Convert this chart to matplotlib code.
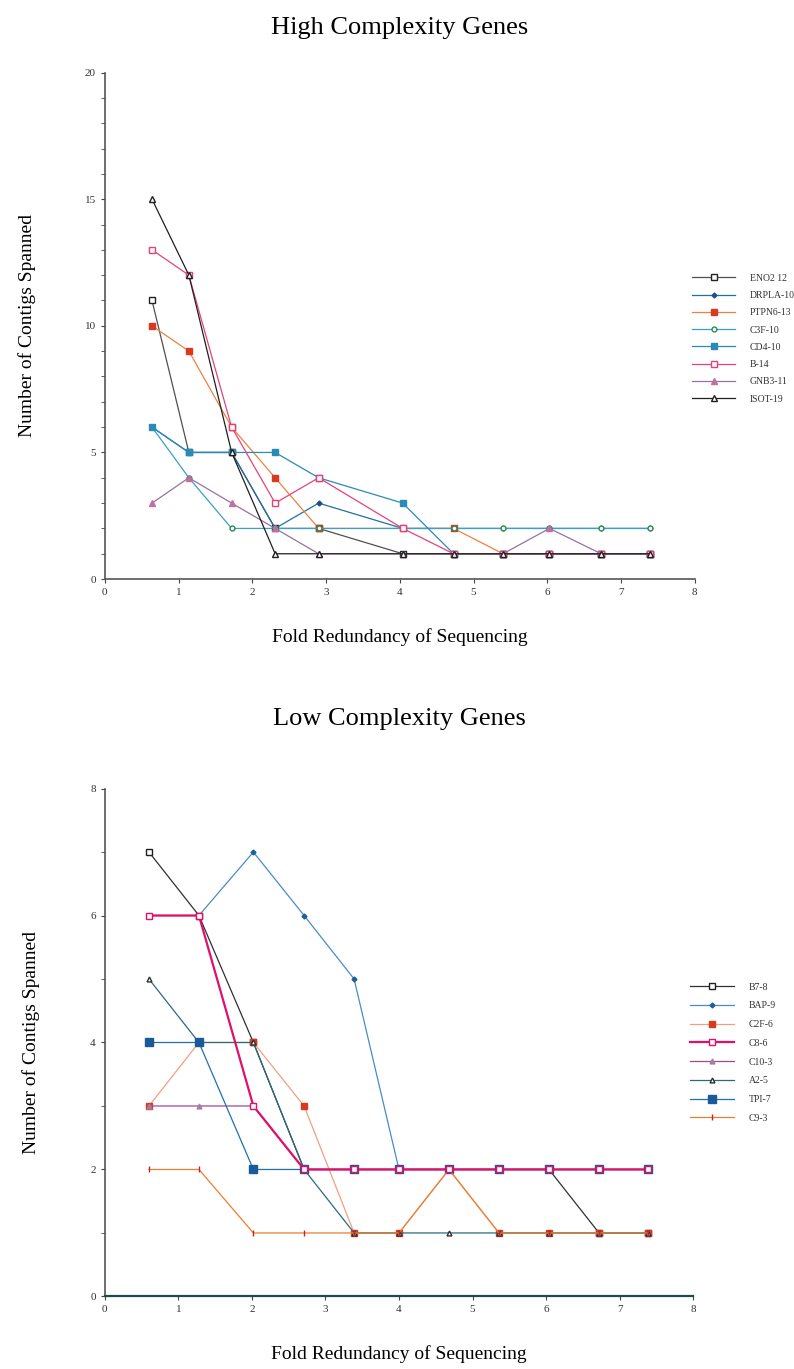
import matplotlib
matplotlib.use("Agg")
import matplotlib.pyplot as plt
from matplotlib.ticker import MultipleLocator

plt.rcParams["font.family"] = ["Liberation Serif", "DejaVu Serif"]

# High complexity genes
high_x = [0.64, 1.14, 1.72, 2.31, 2.90, 4.04, 4.73, 5.40, 6.03, 6.73, 7.39]
high_labels = ["ENO2 12", "DRPLA-10", "PTPN6-13", "C3F-10", "CD4-10", "B-14", "GNB3-11", "ISOT-19"]
eno2 = [11, 5, 5, 2, 2, 1, 1, 1, 1, 1, 1]
drpla = [6, 5, 5, 2, 3, 2, 2, 2, 2, 2, 2]
ptpn6 = [10, 9, 6, 4, 2, 2, 2, 1, 1, 1, 1]
c3f = [6, 4, 2, 2, 2, 2, 2, 2, 2, 2, 2]
cd4 = [6, 5, 5, 5, 4, 3, 1, 1, 1, 1, 1]
b14 = [13, 12, 6, 3, 4, 2, 1, 1, 1, 1, 1]
gnb3 = [3, 4, 3, 2, 1, 1, 1, 1, 2, 1, 1]
isot = [15, 12, 5, 1, 1, 1, 1, 1, 1, 1, 1]

# Low complexity genes
low_x = [0.60, 1.28, 2.02, 2.71, 3.39, 4.00, 4.68, 5.36, 6.04, 6.72, 7.39]
low_labels = ["B7-8", "BAP-9", "C2F-6", "C8-6", "C10-3", "A2-5", "TPI-7", "C9-3"]
b7 = [7, 6, 4, 2, 2, 2, 2, 2, 2, 1, 1]
bap = [6, 6, 7, 6, 5, 2, 2, 2, 2, 2, 2]
c2f = [3, 4, 4, 3, 1, 1, 2, 1, 1, 1, 1]
c8 = [6, 6, 3, 2, 2, 2, 2, 2, 2, 2, 2]
c10 = [3, 3, 3, 2, 2, 2, 2, 2, 2, 2, 2]
a2 = [5, 4, 4, 2, 1, 1, 1, 1, 1, 1, 1]
tpi = [4, 4, 2, 2, 2, 2, 2, 2, 2, 2, 2]
c9 = [2, 2, 1, 1, 1, 1, 2, 1, 1, 1, 1]

high_styles = [
    dict(color="#505050", marker="s", mfc="white", mec="#222222", ms=5),
    dict(color="#1f6fa8", marker="D", mfc="#1f4f88", mec="#1f4f88", ms=2.5),
    dict(color="#f08040", marker="s", mfc="#d83a20", mec="#d83a20", ms=5),
    dict(color="#39a0c8", marker="o", mfc="white", mec="#2a8a50", ms=3.5),
    dict(color="#2a8ab8", marker="s", mfc="#2a8ab8", mec="#2a8ab8", ms=5),
    dict(color="#e8407a", marker="s", mfc="white", mec="#e8407a", ms=5),
    dict(color="#9a70a0", marker="^", mfc="#c070a0", mec="#c070a0", ms=4),
    dict(color="#202020", marker="^", mfc="white", mec="#202020", ms=4),
]
low_styles = [
    dict(color="#303030", marker="s", mfc="white", mec="#202020", ms=5),
    dict(color="#4a8ac8", marker="D", mfc="#1f5f98", mec="#1f5f98", ms=2.5),
    dict(color="#f0a080", marker="s", mfc="#d83a20", mec="#d83a20", ms=5),
    dict(color="#e0106a", marker="s", mfc="white", mec="#e0106a", ms=5, lw=1.6, zorder=4),
    dict(color="#a04a90", marker="^", mfc="#a080a0", mec="#a080a0", ms=3.5),
    dict(color="#2a6a80", marker="^", mfc="white", mec="#303030", ms=3.5),
    dict(color="#2070b0", marker="s", mfc="#1a5a98", mec="#1a5a98", ms=5.5),
    dict(color="#e88030", marker="|", mfc="#d02020", mec="#d02020", ms=5),
]


def draw_panel(ax, x, series, labels, styles, ymax, ystep, title, title_pad, ylab_pad):
    for y, lab, st in zip(series, labels, styles):
        st = dict(st)
        lw = st.pop("lw", 0.9)
        ax.plot(x, y, lw=lw, label=lab, **st)
    ax.set_xlim(0, 8)
    ax.set_ylim(0, ymax)
    ax.xaxis.set_major_locator(MultipleLocator(1))
    ax.yaxis.set_major_locator(MultipleLocator(ystep))
    ax.yaxis.set_minor_locator(MultipleLocator(1))
    ax.tick_params(labelsize=8, length=3, color="#444444", labelcolor="#333333")
    ax.tick_params(which="minor", length=3, color="#444444")
    for s in ["top", "right"]:
        ax.spines[s].set_visible(False)
    for s in ["left", "bottom"]:
        ax.spines[s].set_color("#555555")
        ax.spines[s].set_linewidth(1.2)
    ax.set_xlabel("Fold Redundancy of Sequencing", fontsize=14, labelpad=22)
    ax.set_ylabel("Number of Contigs Spanned", fontsize=14, labelpad=ylab_pad)
    ax.set_title(title, fontsize=19, pad=title_pad)


fig = plt.figure(figsize=(7.94, 13.69), dpi=100)
ax1 = fig.add_axes([0.132, 0.577, 0.743, 0.370])
ax2 = fig.add_axes([0.132, 0.053, 0.741, 0.371])

draw_panel(ax1, high_x, [eno2, drpla, ptpn6, c3f, cd4, b14, gnb3, isot],
           high_labels, high_styles, 20, 5, "High Complexity Genes", 28, 35)
draw_panel(ax2, low_x, [b7, bap, c2f, c8, c10, a2, tpi, c9],
           low_labels, low_styles, 8, 2, "Low Complexity Genes", 46, 36)
ax2.spines["bottom"].set_color("#1f4a4a")
ax2.spines["bottom"].set_linewidth(1.6)

ax1.legend(loc="upper left", bbox_to_anchor=(0.98, 0.62), frameon=False,
           fontsize=7, handlelength=4.5, labelspacing=0.85, handletextpad=1.5,
           labelcolor="#333333")
ax2.legend(loc="upper left", bbox_to_anchor=(0.98, 0.635), frameon=False,
           fontsize=7, handlelength=4.5, labelspacing=1.0, handletextpad=1.5,
           labelcolor="#333333")

fig.savefig("out.png", dpi=100)
